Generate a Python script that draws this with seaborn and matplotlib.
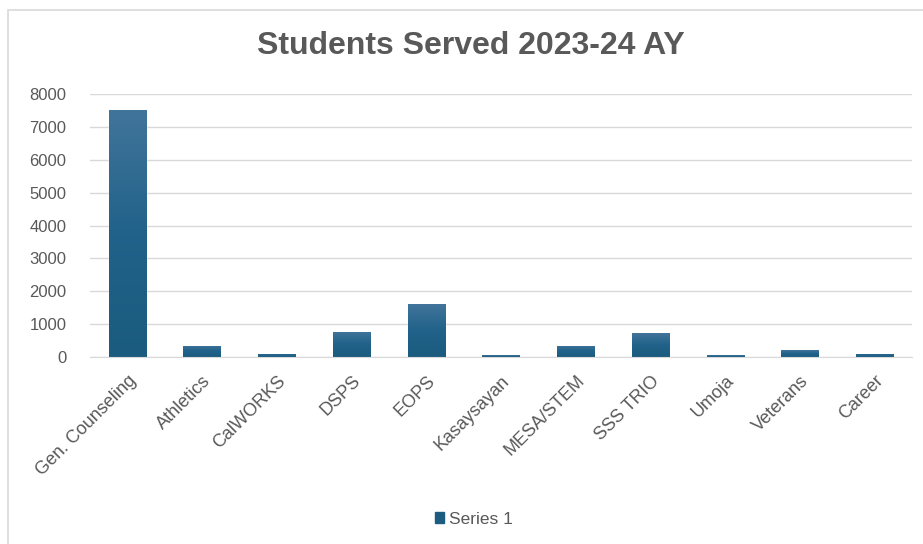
import numpy as np
import pandas as pd
import seaborn as sns
import matplotlib.pyplot as plt
from matplotlib.patches import Rectangle

# data
programs = ["Gen. Counseling", "Athletics", "CalWORKS", "DSPS", "EOPS", "Kasaysayan",
            "MESA/STEM", "SSS TRIO", "Umoja", "Veterans", "Career"]
students = [7500, 340, 100, 770, 1600, 50, 340, 730, 60, 200, 100]
yticks = [0, 1000, 2000, 3000, 4000, 5000, 6000, 7000, 8000]

df = pd.DataFrame({"program": programs, "students": students})

sns.set_style("white")
plt.rcParams["font.family"] = ["Liberation Sans", "DejaVu Sans"]
txt = "#595959"

fig = plt.figure(figsize=(9.23, 5.44), dpi=100)
ax = fig.add_axes([90 / 923, 1 - 357 / 544, 822 / 923, 263 / 544])

sns.barplot(data=df, x="program", y="students", color="#1b5c80", width=0.5, ax=ax)

ax.set_yticks(yticks)
ax.yaxis.grid(True, color="#d9d9d9", lw=1)
ax.set_axisbelow(True)
for s in ["left", "right", "top"]:
    ax.spines[s].set_visible(False)
ax.spines["bottom"].set_color("#d9d9d9")
ax.tick_params(length=0, colors=txt)
ax.tick_params(axis="y", pad=17, labelsize=12)
ax.tick_params(axis="x", pad=11, labelsize=13)
ax.set_xlabel("")
ax.set_ylabel("")
plt.setp(ax.get_xticklabels(), rotation=45, ha="right", rotation_mode="anchor")

# gradient fill per bar (lighter at top)
grad = np.linspace(0, 1, 100).reshape(-1, 1)
cmap = sns.blend_palette(["#1a5b7f", "#21628a", "#41749a"], as_cmap=True)
for p in list(ax.patches):
    x0, y0 = p.get_x(), p.get_y()
    w, h = p.get_width(), p.get_height()
    im = ax.imshow(grad, cmap=cmap, aspect="auto", origin="lower",
                   extent=[x0, x0 + w, y0, y0 + h], zorder=p.get_zorder())
    im.set_clip_path(p)
ax.set_ylim(0, 8000)
ax.set_xlim(-0.5, len(programs) - 0.5)

# legend
handle = Rectangle((0, 0), 1, 1, color="#1b5c80")
fig.legend([handle], ["Series 1"], loc="center", bbox_to_anchor=(474 / 923, 1 - 519 / 544),
           frameon=False, handlelength=0.55, handleheight=0.55, handletextpad=0.3,
           labelcolor=txt, fontsize=12.5)

# title
fig.text(471 / 923, 1 - 46 / 544, "Students Served 2023-24 AY", ha="center", va="center",
         fontsize=23, fontweight="bold", color=txt)

# chart border
fig.patches.append(Rectangle((8 / 923, -0.1), 1.1, 1 - 10 / 544 + 0.1,
                             transform=fig.transFigure, fill=False,
                             edgecolor="#d9d9d9", lw=1.2))

fig.savefig("out.png", dpi=100)
